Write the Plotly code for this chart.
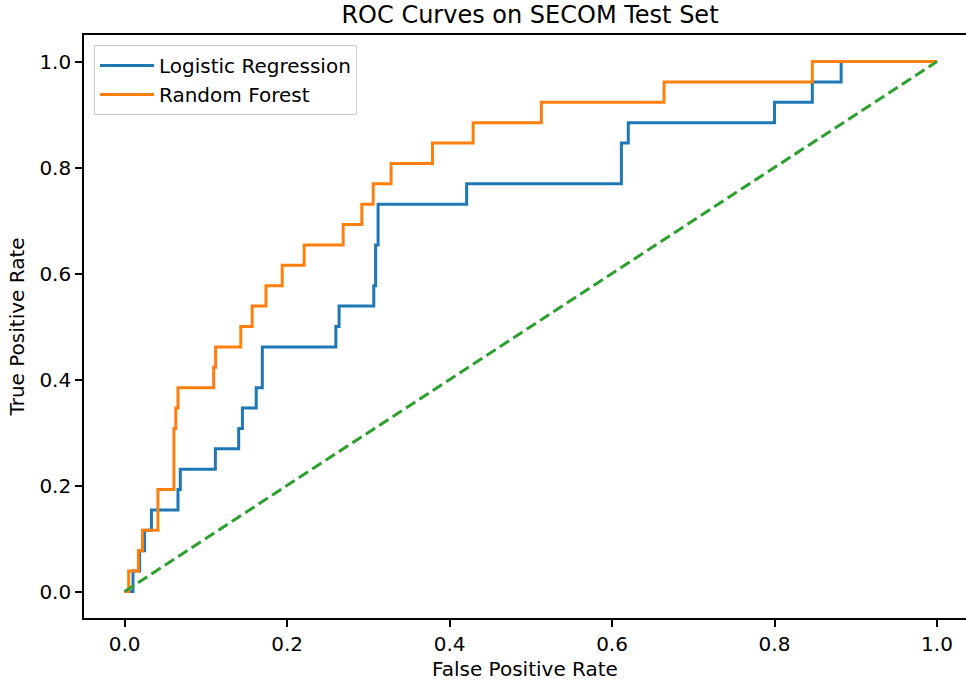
import plotly.graph_objects as go

# ROC curve vertices
lr_fpr = [0.0, 0.0103, 0.0103, 0.0185, 0.0185, 0.0246, 0.0246, 0.033, 0.033, 0.0657, 0.0657,
          0.0685, 0.0685, 0.1117, 0.1117, 0.1404, 0.1404, 0.145, 0.145, 0.162, 0.162, 0.1695,
          0.1695, 0.26, 0.26, 0.264, 0.264, 0.3067, 0.3067, 0.309, 0.309, 0.312, 0.312, 0.421,
          0.421, 0.6115, 0.6115, 0.62, 0.62, 0.80, 0.80, 0.8465, 0.8465, 0.882, 0.882, 1.0]
lr_tpr = [0.0, 0.0, 0.0385, 0.0385, 0.0769, 0.0769, 0.1154, 0.1154, 0.1538, 0.1538, 0.1923,
          0.1923, 0.2308, 0.2308, 0.2692, 0.2692, 0.3077, 0.3077, 0.3462, 0.3462, 0.3846, 0.3846,
          0.4615, 0.4615, 0.5, 0.5, 0.5385, 0.5385, 0.5769, 0.5769, 0.6538, 0.6538, 0.7308, 0.7308,
          0.7692, 0.7692, 0.8462, 0.8462, 0.8846, 0.8846, 0.9231, 0.9231, 0.9615, 0.9615, 1.0, 1.0]

rf_fpr = [0.0, 0.005, 0.005, 0.017, 0.017, 0.022, 0.022, 0.041, 0.041, 0.0607, 0.0607, 0.063,
          0.063, 0.0657, 0.0657, 0.1096, 0.1096, 0.112, 0.112, 0.143, 0.143, 0.157, 0.157, 0.174,
          0.174, 0.194, 0.194, 0.221, 0.221, 0.269, 0.269, 0.292, 0.292, 0.306, 0.306, 0.328,
          0.328, 0.379, 0.379, 0.429, 0.429, 0.513, 0.513, 0.664, 0.664, 0.8465, 0.8465, 1.0]
rf_tpr = [0.0, 0.0, 0.0385, 0.0385, 0.0769, 0.0769, 0.1154, 0.1154, 0.1923, 0.1923, 0.3077,
          0.3077, 0.3462, 0.3462, 0.3846, 0.3846, 0.4231, 0.4231, 0.4615, 0.4615, 0.5, 0.5, 0.5385,
          0.5385, 0.5769, 0.5769, 0.6154, 0.6154, 0.6538, 0.6538, 0.6923, 0.6923, 0.7308, 0.7308,
          0.7692, 0.7692, 0.8077, 0.8077, 0.8462, 0.8462, 0.8846, 0.8846, 0.9231, 0.9231, 0.9615,
          0.9615, 1.0, 1.0]

diag_x = [0.0, 1.0]
diag_y = [0.0, 1.0]

tick_vals = [0.0, 0.2, 0.4, 0.6, 0.8, 1.0]
tick_text = ["0.0", "0.2", "0.4", "0.6", "0.8", "1.0"]

FONT = "DejaVu Sans"
FIG_W, FIG_H = 966, 683

fig = go.Figure()
fig.add_trace(go.Scatter(x=lr_fpr, y=lr_tpr, mode="lines", name="Logistic Regression",
                         legendgroup="a", line=dict(color="#1f77b4", width=3)))
fig.add_trace(go.Scatter(x=rf_fpr, y=rf_tpr, mode="lines", name="Random Forest",
                         legendgroup="b", line=dict(color="#ff7f0e", width=3)))
fig.add_trace(go.Scatter(x=diag_x, y=diag_y, mode="lines", showlegend=False,
                         line=dict(color="#2ca02c", width=3, dash="11px,5px")))

fig.update_layout(
    width=FIG_W, height=FIG_H,
    margin=dict(l=84, r=0, t=35, b=65),
    paper_bgcolor="white", plot_bgcolor="white",
    font=dict(family=FONT, size=20, color="black"),
    title=dict(text="ROC Curves on SECOM Test Set", xref="container", x=530 / FIG_W,
               xanchor="center", yref="container", y=1 - 15 / FIG_H, yanchor="middle",
               font=dict(family=FONT, size=24, color="black")),
    legend=dict(x=0.0113, y=0.983, xanchor="left", yanchor="top",
                bgcolor="rgba(255,255,255,0.8)", bordercolor="#cccccc", borderwidth=1,
                font=dict(family=FONT, size=20), tracegroupgap=0, traceorder="grouped",
                itemwidth=54),
    showlegend=True,
)
fig.update_xaxes(range=[-0.05, 1.0357], tickvals=tick_vals, ticktext=tick_text,
                 showgrid=False, zeroline=False, showline=True, linecolor="black", linewidth=1.6,
                 mirror=True, ticks="outside", ticklen=7, tickcolor="black", tickwidth=1.6,
                 title=dict(text="False Positive Rate", standoff=7, font=dict(size=20)))
fig.update_yaxes(range=[-0.05, 1.05], tickvals=tick_vals, ticktext=tick_text,
                 showgrid=False, zeroline=False, showline=True, linecolor="black", linewidth=1.6,
                 ticks="outside", ticklen=7, tickcolor="black", tickwidth=1.6,
                 title=dict(text="True Positive Rate", standoff=9, font=dict(size=20)))

fig.write_html("out.html", config={"displayModeBar": False},
               post_script="document.body.style.margin='0';")
